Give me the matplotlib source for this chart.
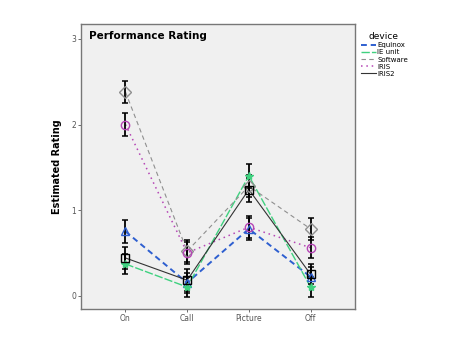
import matplotlib.pyplot as plt
import numpy as np

# tasks on x axis
tasks = ['On', 'Call', 'Picture', 'Off']

# estimated means per device
equinox = [0.75, 0.15, 0.78, 0.22]
ie_unit = [0.37, 0.10, 1.40, 0.10]
software = [2.38, 0.52, 1.28, 0.78]
iris = [2.00, 0.50, 0.80, 0.56]
iris2 = [0.44, 0.18, 1.24, 0.25]

# half-width of the error bars
equinox_err = [0.13, 0.12, 0.13, 0.12]
ie_unit_err = [0.12, 0.12, 0.14, 0.12]
software_err = [0.13, 0.13, 0.13, 0.13]
iris_err = [0.13, 0.13, 0.13, 0.12]
iris2_err = [0.13, 0.13, 0.14, 0.12]

fig = plt.figure(figsize=(4.58, 3.53), dpi=100)
ax = fig.add_axes([0.177, 0.125, 0.598, 0.807])
ax.set_facecolor('#f0f0f0')

x = np.arange(len(tasks))

series = [
    ('Equinox', equinox, equinox_err, '#2e5fd0', (0, (3, 2)), '^', 1.4),
    ('IE unit', ie_unit, ie_unit_err, '#3fd17f', (0, (6, 1.5)), '*', 1.0),
    ('Software', software, software_err, '#8f8f8f', (0, (4, 3)), 'D', 0.8),
    ('IRIS', iris, iris_err, '#b545b5', (0, (1, 2.5)), 'o', 1.1),
    ('IRIS2', iris2, iris2_err, '#333333', '-', 's', 0.8),
]

for name, vals, err, col, ls, mk, lw in series:
    ax.errorbar(x, vals, yerr=err, fmt='none', ecolor='black', elinewidth=1.3,
                capsize=2, capthick=1.1, zorder=4)
    ax.plot(x, vals, color=col, linestyle=ls, linewidth=lw, label=name, zorder=3)
    ax.plot(x, vals, linestyle='none', marker=mk, markersize=6,
            markerfacecolor='none' if mk != '*' else col,
            markeredgecolor=col if name != 'IRIS2' else 'black',
            markeredgewidth=1.0, zorder=5)

ax.set_xlim(-0.72, 3.72)
ax.set_ylim(-0.155, 3.175)
ax.set_xticks(x)
ax.set_xticklabels(tasks)
ax.set_yticks([0, 1, 2, 3])
ax.tick_params(labelsize=5.5, colors='#555555', length=2, width=0.6, pad=1.5)
for s in ax.spines.values():
    s.set_color('#777777')
    s.set_linewidth(1.0)

ax.set_ylabel('Estimated Rating', fontsize=7, fontweight='bold', labelpad=7)
ax.text(0.03, 0.975, 'Performance Rating', transform=ax.transAxes, fontsize=7.5,
        fontweight='bold', va='top', ha='left')

leg = ax.legend(loc='upper left', bbox_to_anchor=(1.0, 0.99), frameon=False,
                title='device', fontsize=5, title_fontsize=6.5, handlelength=2.2,
                labelspacing=0.15, handletextpad=0.2, borderaxespad=0.4)
leg._legend_box.align = 'left'
leg.get_title().set_position((8, 0))

fig.savefig('out.png', dpi=100)
